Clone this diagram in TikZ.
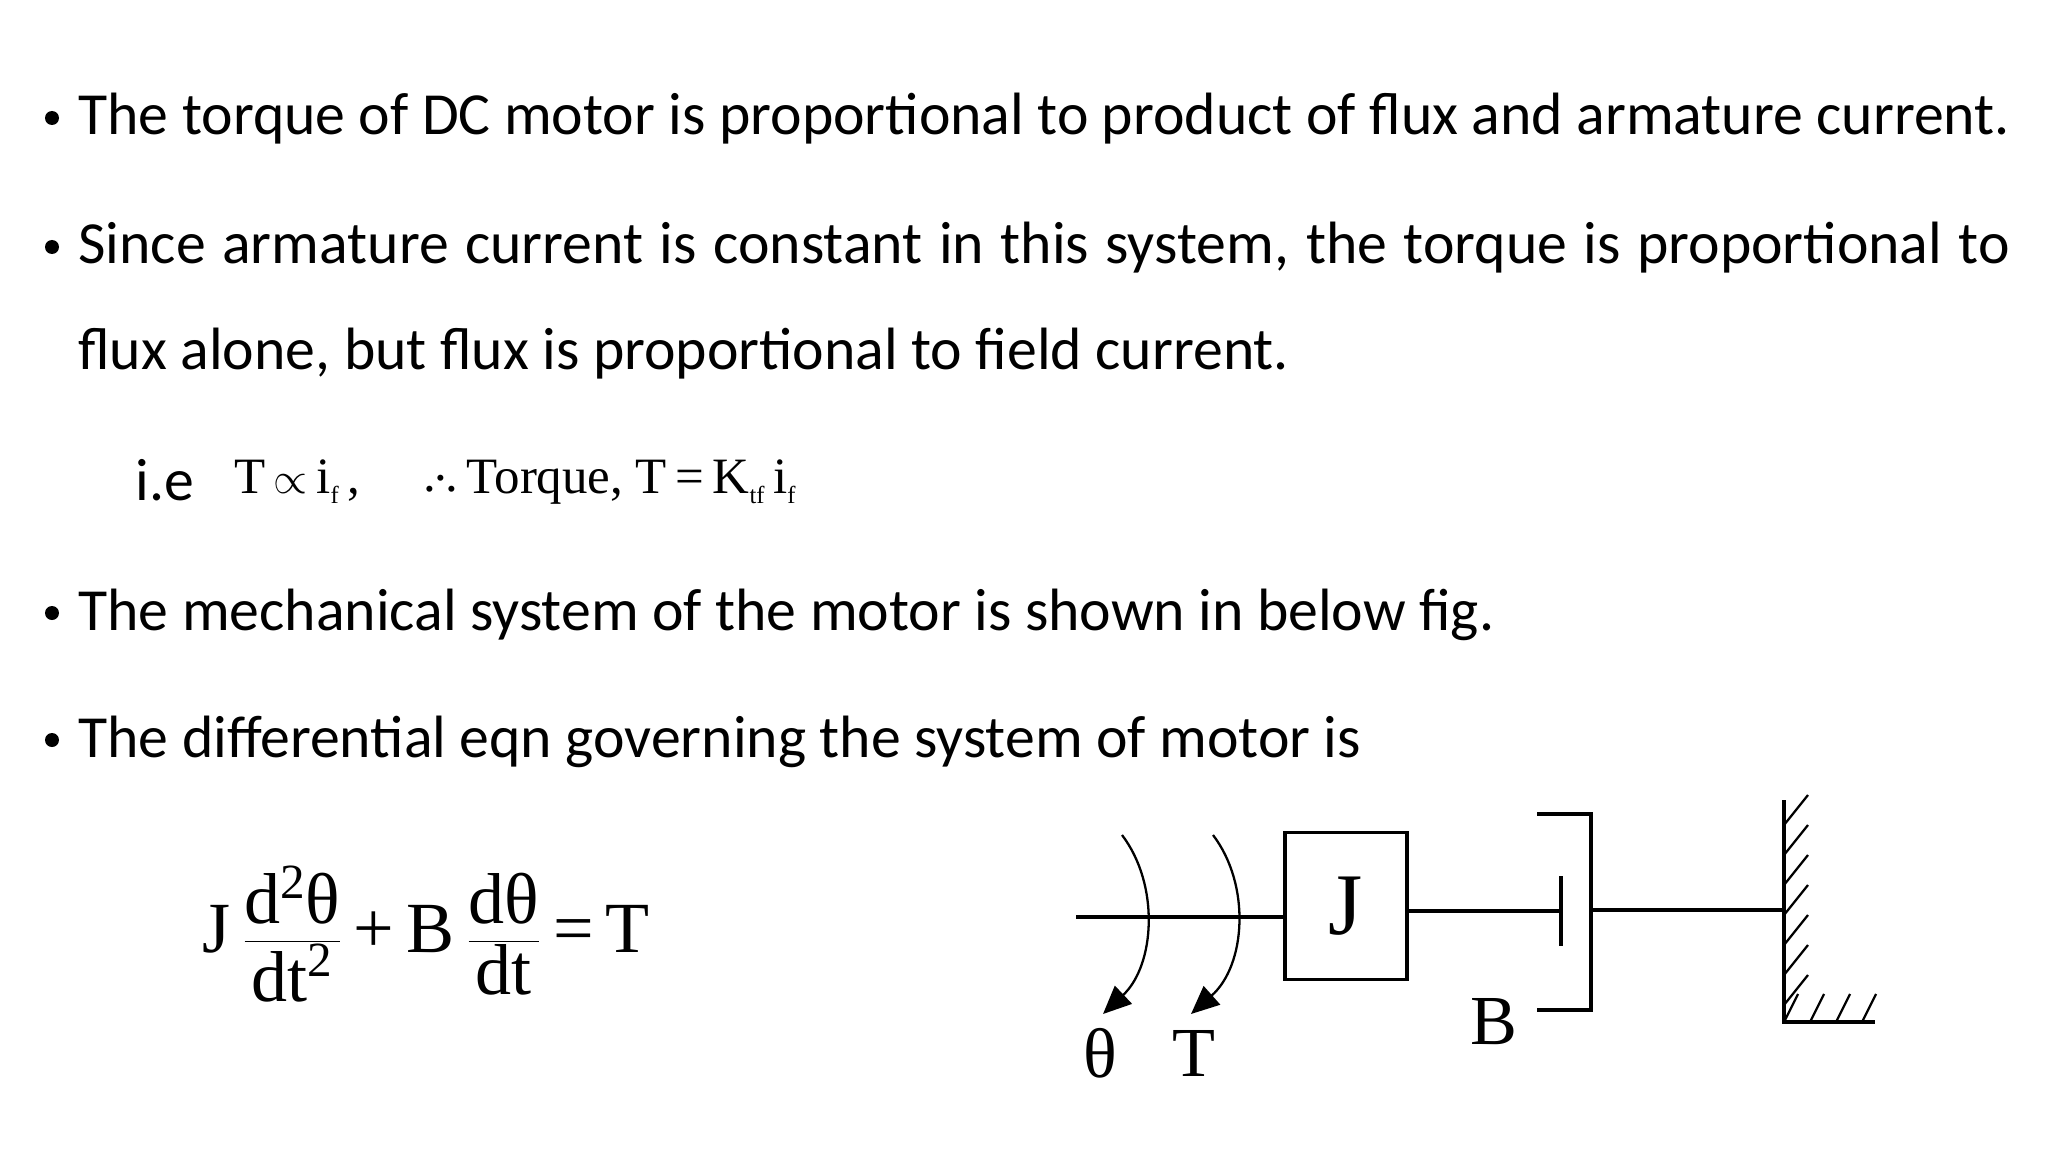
\documentclass[tikz,border=0pt]{standalone}
\usepackage{fontspec}
\setmainfont{Carlito}
\newfontfamily\timesf{Liberation Serif}
\usetikzlibrary{arrows.meta}
\begin{document}
\begin{tikzpicture}[x=0.02cm,y=-0.02cm,
  bul/.style={anchor=base west,inner sep=0,font=\fontsize{34}{60}\selectfont},
  frm/.style={anchor=base west,inner sep=0,font=\timesf\fontsize{29}{30}\selectfont},
  mech/.style={line width=1.8pt},
  lbl/.style={inner sep=0,font=\timesf\fontsize{40}{40}\selectfont}]
\useasboundingbox (0,0) rectangle (2048,1152);
\foreach \y in {135,264,630,757}{\fill (52,\y-17) circle (7);}
\node[bul] (l1) at (78,135) {The torque of DC motor is proportional to product of flux and armature current.};
\node[bul,text width=38.64cm,align=justify,anchor=north west] (l2) at (78,222) {\hyphenpenalty=10000 Since armature current is constant in this system, the torque is proportional to\linebreak flux alone, but flux is proportional to field current.};
\node[bul,font=\fontsize{34}{40}\selectfont] (ie) at (135,500) {i.e};
\node[frm] (f1) at (234,493) {T\,$\propto$\,i\raisebox{-6pt}{\fontsize{14}{14}\selectfont f}\,,\quad\ \raisebox{1pt}{.\kern-1pt\raisebox{6pt}{.}\kern-1pt.}\,Torque, T\,=\,K\raisebox{-6pt}{\fontsize{14}{14}\selectfont tf}\,i\raisebox{-6pt}{\fontsize{14}{14}\selectfont f}};
\node[bul] (l4) at (78,630) {The mechanical system of the motor is shown in below fig.};
\node[bul] (l5) at (78,757) {The differential eqn governing the system of motor is};
\node[inner sep=0,anchor=west,font=\timesf\fontsize{41}{44}\selectfont] (eq) at (202,934) {J\,$\displaystyle\frac{\hbox{d\raisebox{14pt}{\fontsize{28}{28}\selectfont 2}θ}}{\hbox{dt\raisebox{14pt}{\fontsize{28}{28}\selectfont 2}}}$\,+\,B\,$\displaystyle\frac{\hbox{dθ}}{\hbox{dt}}$\,=\,T};
% mechanical system
\node[draw,mech,minimum width=122*0.02cm,minimum height=147*0.02cm,inner sep=0,font=\timesf\fontsize{50}{50}\selectfont] (J) at (1346,906) {J};
\coordinate (s0) at (1076,917);
\draw[mech] (s0) -- (J.west|-s0);
\coordinate (p) at (1561,911);
\draw[mech] (J.east|-p) -- (p);
\draw[mech] (1561,876) -- (1561,946);
\draw[mech] (1537,814) -- (1591,814) -- (1591,1010) -- (1537,1010);
\coordinate (w) at (1784,910);
\draw[mech] (1591,910) -- (w);
\draw[mech] (1784,800) -- (1784,1022) -- (1875,1022);
\foreach \y in {795,825,855,885,915,945,975}{\draw[line width=1.3pt] (1784,\y+30) -- (1808,\y);}
\foreach \x in {1784,1810,1836,1862}{\draw[line width=1.3pt] (\x,1022) -- (\x+14,994);}
\draw[line width=1.3pt,-{Triangle[length=16pt,width=14pt]}] (1122,835) .. controls (1160,885) and (1155,965) .. (1103,1014);
\draw[line width=1.3pt,-{Triangle[length=16pt,width=14pt]}] (1213,835) .. controls (1251,885) and (1246,965) .. (1191,1014);
\node[lbl] (th) at (1100,1053) {θ};
\node[lbl] (T) at (1194,1053) {T};
\node[lbl] (B) at (1494,1022) {B};
\end{tikzpicture}
\end{document}
